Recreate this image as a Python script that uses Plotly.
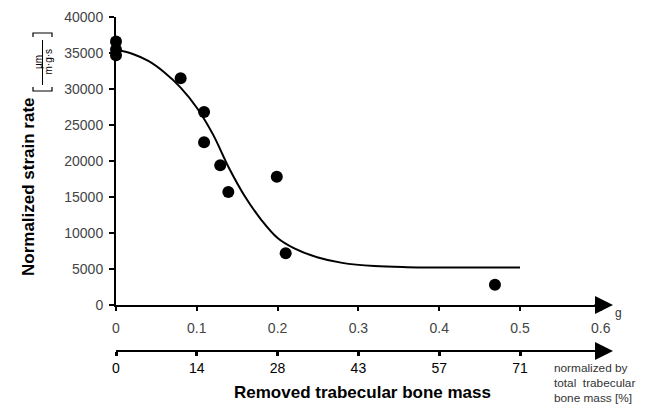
import plotly.graph_objects as go

# Measured data points (removed bone mass [g], normalized strain rate)
mass_g = [0.0, 0.0, 0.0, 0.080, 0.109, 0.109, 0.129, 0.139, 0.199, 0.210, 0.469]
strain = [36600, 35500, 34700, 31500, 26800, 22600, 19400, 15700, 17800, 7200, 2800]

# Fitted curve
curve_x = [0.0, 0.02, 0.04, 0.06, 0.08, 0.10, 0.12, 0.14, 0.16, 0.18,
           0.20, 0.22, 0.25, 0.28, 0.32, 0.36, 0.42, 0.5]
curve_y = [35500, 34900, 33900, 32300, 30200, 27400, 23700, 19000, 15000, 11800,
           9300, 7900, 6600, 5850, 5400, 5250, 5200, 5200]

g_ticks = [0, 0.1, 0.2, 0.3, 0.4, 0.5, 0.6]
g_labels = ["0", "0.1", "0.2", "0.3", "0.4", "0.5", "0.6"]
pct_ticks = [0, 0.1, 0.2, 0.3, 0.4, 0.5]
pct_labels = ["0", "14", "28", "43", "57", "71"]
y_ticks = [0, 5000, 10000, 15000, 20000, 25000, 30000, 35000, 40000]
note_lines = ["normalized by", "total  trabecular", "bone mass [%]"]

FONT = "Liberation Sans, Arial, sans-serif"
OFF = 8                      # page body margin of the browser
W, H = 645 - OFF, 409 - OFF
PLOT_L, PLOT_R, PLOT_T, PLOT_B = 116, 605, 17, 351   # target pixel box on the page
L = PLOT_L - OFF
T = PLOT_T - OFF
R = W - (PLOT_R - OFF)
B = H - (PLOT_B - OFF)
PW = PLOT_R - PLOT_L
PH = PLOT_B - PLOT_T
XMAX = PW / 808.0

def px(xp):
    return (xp - PLOT_L) / PW

def py(yp):
    return (PLOT_B - yp) / PH

ydom0 = (351 - 305) / PH

fig = go.Figure()
fig.add_trace(go.Scatter(x=curve_x, y=curve_y, mode="lines",
                         line=dict(color="black", width=2, shape="spline", smoothing=1.0),
                         hoverinfo="skip", showlegend=False))
fig.add_trace(go.Scatter(x=mass_g, y=strain, mode="markers",
                         marker=dict(color="black", size=12),
                         cliponaxis=False, showlegend=False))
# dummy trace for second axis
fig.add_trace(go.Scatter(x=[0], y=[None], xaxis="x2", showlegend=False, hoverinfo="skip"))

fig.update_layout(
    width=W, height=H,
    margin=dict(l=L, r=R, t=T, b=B, autoexpand=False),
    paper_bgcolor="white", plot_bgcolor="white",
    font=dict(family=FONT, color="black"),
    xaxis=dict(range=[0, XMAX], domain=[0, 1], anchor="y", automargin=False,
               tickvals=g_ticks, ticktext=g_labels,
               showline=True, linecolor="black", linewidth=2,
               ticks="outside", ticklen=4, tickwidth=2, tickcolor="black",
               ticklabelstandoff=5,
               tickfont=dict(size=14, color="#444444", family=FONT),
               showgrid=False, zeroline=False, fixedrange=True),
    xaxis2=dict(range=[0, XMAX], domain=[0, 1], anchor="free", position=0,
                overlaying="x", side="bottom", automargin=False,
                tickvals=pct_ticks, ticktext=pct_labels,
                showline=True, linecolor="black", linewidth=2,
                ticks="outside", ticklen=4, tickwidth=3, tickcolor="black",
                tickfont=dict(size=14, color="black", family=FONT),
                showgrid=False, zeroline=False, fixedrange=True),
    yaxis=dict(range=[0, 40000], domain=[ydom0, 1], automargin=False,
               tickvals=y_ticks, ticktext=[str(v) for v in y_ticks],
               showline=True, linecolor="black", linewidth=2,
               ticks="outside", ticklen=5, tickwidth=2, tickcolor="black",
               ticklabelstandoff=3,
               tickfont=dict(size=14, color="#444444", family=FONT),
               showgrid=False, zeroline=False, fixedrange=True),
)

def text_ann(x, y, text, size, color="black", angle=0, xanchor="center"):
    return dict(x=px(x), y=py(y), xref="paper", yref="paper", text=text,
                showarrow=False, xanchor=xanchor, yanchor="middle", textangle=angle,
                font=dict(size=size, color=color, family=FONT))

ann = []
# arrowheads at the end of both horizontal axes
for yy in (305, 351):
    ann.append(dict(x=px(613), y=py(yy), xref="paper", yref="paper", ax=-20, ay=0,
                    showarrow=True, arrowhead=2, arrowsize=1.8, arrowwidth=2,
                    arrowcolor="black", standoff=0, text=""))
ann.append(text_ann(618, 313, "g", 12, "#333333"))
ann.append(text_ann(362, 392, "<b>Removed trabecular bone mass</b>", 17))
for i, line in enumerate(note_lines):
    ann.append(text_ann(552, 368 + 15 * i, line, 11.8, "#333333", xanchor="left"))
ann.append(text_ann(28, 187, "<b>Normalized strain rate</b>", 17, angle=-90))
ann.append(text_ann(38, 62, "µm", 10, angle=-90))
ann.append(text_ann(47.5, 62, "m·g·s", 10, angle=-90))
fig.update_layout(annotations=ann)

shapes = []
# fraction bar
shapes.append(dict(type="line", xref="paper", yref="paper",
                   x0=px(42.5), x1=px(42.5), y0=py(40), y1=py(85),
                   line=dict(color="black", width=1)))
# brackets
shapes.append(dict(type="path", xref="paper", yref="paper",
                   path=f"M {px(33)} {py(37)} L {px(33)} {py(33)} L {px(52)} {py(33)} L {px(52)} {py(37)}",
                   line=dict(color="black", width=1.2)))
shapes.append(dict(type="path", xref="paper", yref="paper",
                   path=f"M {px(33)} {py(87)} L {px(33)} {py(91)} L {px(52)} {py(91)} L {px(52)} {py(87)}",
                   line=dict(color="black", width=1.2)))
fig.update_layout(shapes=shapes)

fig.write_html("out.html")
